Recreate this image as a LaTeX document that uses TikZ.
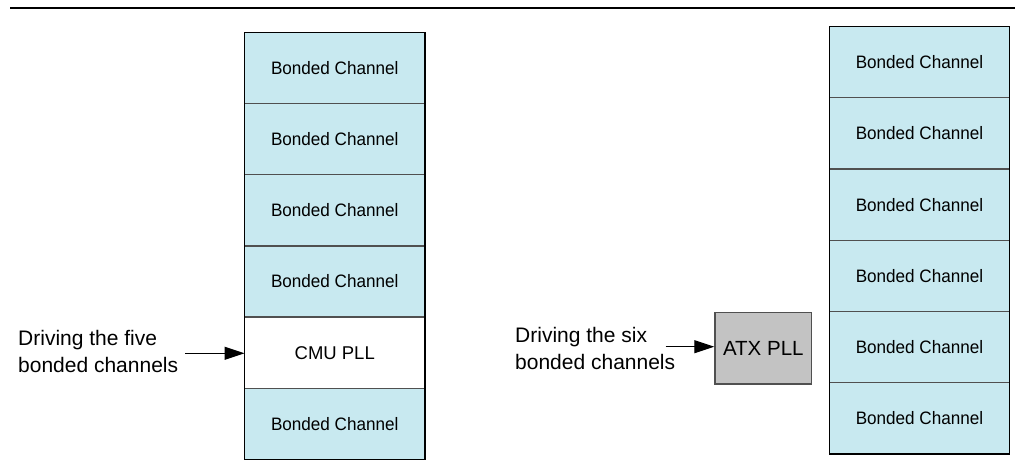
\documentclass[tikz,border=0pt]{standalone}
\usepackage{fontspec}
\setmainfont{Liberation Sans}
\newfontfamily\narrowfont[FakeStretch=0.95]{Liberation Sans}
\usetikzlibrary{arrows.meta}
\definecolor{chblue}{RGB}{200,233,240}
\definecolor{pllgray}{RGB}{195,195,195}
\definecolor{divgray}{RGB}{80,80,80}
\tikzset{
  row/.style={rectangle, fill=chblue, draw=divgray, line width=1.3pt, inner sep=0pt, outer sep=0pt,
    minimum width=180.5pt, minimum height=71.2pt, font=\narrowfont\fontsize{18}{20}\selectfont},
  pllrow/.style={row, fill=white, font=\fontsize{18.5}{20}\selectfont},
  atxbox/.style={rectangle, fill=pllgray, draw=divgray, line width=1.3pt, inner sep=0pt,
    minimum width=96.7pt, minimum height=71.3pt, font=\fontsize{20.5}{22}\selectfont},
  lbl/.style={align=left, inner sep=0pt, font=\fontsize{21}{26.6}\selectfont},
  arr/.style={line width=1.2pt, -{Triangle[length=20pt,width=13pt]}},
  outline/.style={draw=black, line width=1.3pt}
}
\begin{document}
\begin{tikzpicture}[x=1pt,y=-1pt]
\useasboundingbox (0,0) rectangle (1015,472);
\coordinate (r0) at (10,8);
\coordinate (r1) at (1015,8);
\draw[line width=2pt] (r0) -- (r1);
% left stack
\node[row] (l1) at (334.75,67.9) {Bonded Channel};
\node[row] (l2) at (334.75,139.1) {Bonded Channel};
\node[row] (l3) at (334.75,210.3) {Bonded Channel};
\node[row] (l4) at (334.75,281.5) {Bonded Channel};
\node[pllrow] (cmu) at (334.75,352.7) {CMU PLL};
\node[row] (l6) at (334.75,423.9) {Bonded Channel};
\draw[outline] (l1.north west) rectangle (l6.south east);
% right stack
\node[row, minimum width=180pt, minimum height=71.25pt] (q1) at (919.5,62.1) {Bonded Channel};
\node[row, minimum width=180pt, minimum height=71.25pt] (q2) at (919.5,133.4) {Bonded Channel};
\node[row, minimum width=180pt, minimum height=71.25pt] (q3) at (919.5,204.6) {Bonded Channel};
\node[row, minimum width=180pt, minimum height=71.25pt] (q4) at (919.5,275.9) {Bonded Channel};
\node[row, minimum width=180pt, minimum height=71.25pt] (q5) at (919.5,347.1) {Bonded Channel};
\node[row, minimum width=180pt, minimum height=71.25pt] (q6) at (919.5,418.4) {Bonded Channel};
\draw[outline] (q1.north west) rectangle (q6.south east);
% ATX PLL
\node[atxbox] (atx) at (763.3,348.3) {ATX PLL};
% labels
\node[lbl, anchor=base west] (lt) at (18,372.3) {Driving the five\\bonded channels};
\node[lbl, anchor=base west] (rt) at (515,369.3) {Driving the six\\bonded channels};
\coordinate (la) at (185,353.3);
\coordinate (ra) at (665.7,346.7);
\draw[arr] (la) -- (la -| cmu.west);
\draw[arr] (ra) -- (ra -| atx.west);
\end{tikzpicture}
\end{document}
